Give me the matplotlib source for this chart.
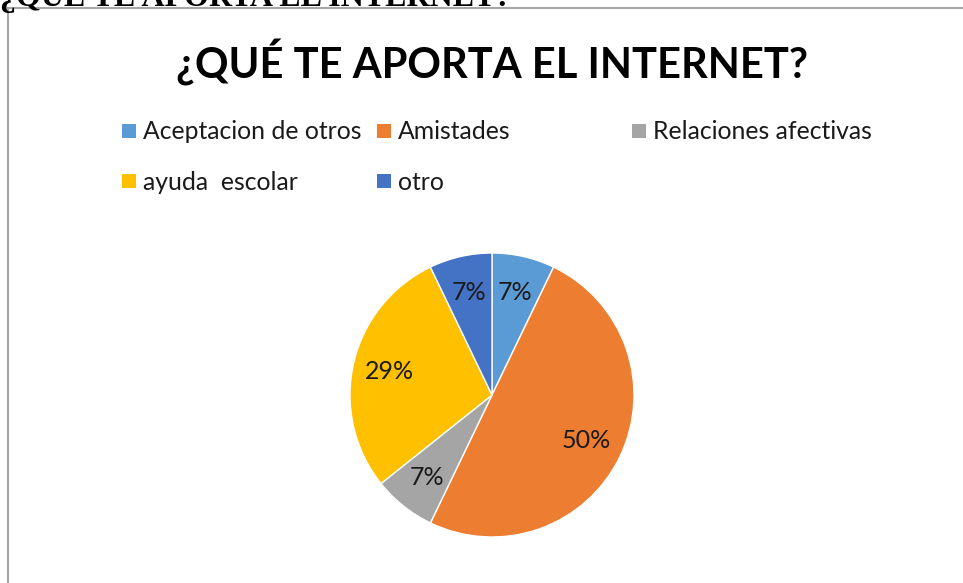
import matplotlib.pyplot as plt
from matplotlib.patches import Rectangle
from matplotlib.lines import Line2D

labels = ["Aceptacion de otros", "Amistades", "Relaciones afectivas", "ayuda  escolar", "otro"]
values = [1, 7, 1, 4, 1]
colors = ["#5B9BD5", "#ED7D31", "#A5A5A5", "#FFC000", "#4472C4"]
title = "¿QUÉ TE APORTA EL INTERNET?"

W, H = 963, 583
fig = plt.figure(figsize=(W / 100, H / 100), dpi=100)
plt.rcParams["font.family"] = ["Lato", "DejaVu Sans"]


def fx(px):
    return px / W


def fy(py):
    return 1 - py / H


# clipped heading of the page above the chart
fig.text(fx(0), fy(6), title, fontsize=23, fontweight="bold",
         family="Liberation Serif", ha="left", va="baseline")

# chart area frame (left and top edges visible)
fig.add_artist(Line2D([fx(8), fx(8)], [fy(8), 0], color="#A6A6A6", lw=1.5))
fig.add_artist(Line2D([fx(8), 1], [fy(8), fy(8)], color="#A6A6A6", lw=1.5))

fig.text(fx(492), fy(78), title, fontsize=30, fontweight="bold",
         ha="center", va="baseline", color="black")

# legend, Excel style: evenly spaced columns
for i, (lab, c) in enumerate(zip(labels, colors)):
    col, row = i % 3, i // 3
    x0 = 122 + col * 255
    yc = 131 + row * 50
    fig.add_artist(Rectangle((fx(x0), fy(yc + 7)), fx(14), 14 / H,
                             facecolor=c, edgecolor="none"))
    fig.text(fx(x0 + 21), fy(yc + 1), lab, fontsize=17.8, ha="left", va="center",
             color="#1a1a1a")

r = 142
ax = fig.add_axes([fx(492 - r), (H - 395 - r) / H, 2 * r / W, 2 * r / H])
wedges, texts, autotexts = ax.pie(values, colors=colors, startangle=90, counterclock=False,
                                  autopct=lambda p: "%d%%" % round(p), pctdistance=0.74,
                                  wedgeprops=dict(edgecolor="white", linewidth=1))
for t in autotexts:
    t.set_fontsize(18)
    t.set_color("#1a1a1a")
ax.set_xlim(-1, 1)
ax.set_ylim(-1, 1)
ax.set_aspect("equal")

fig.savefig("out.png", dpi=100)
